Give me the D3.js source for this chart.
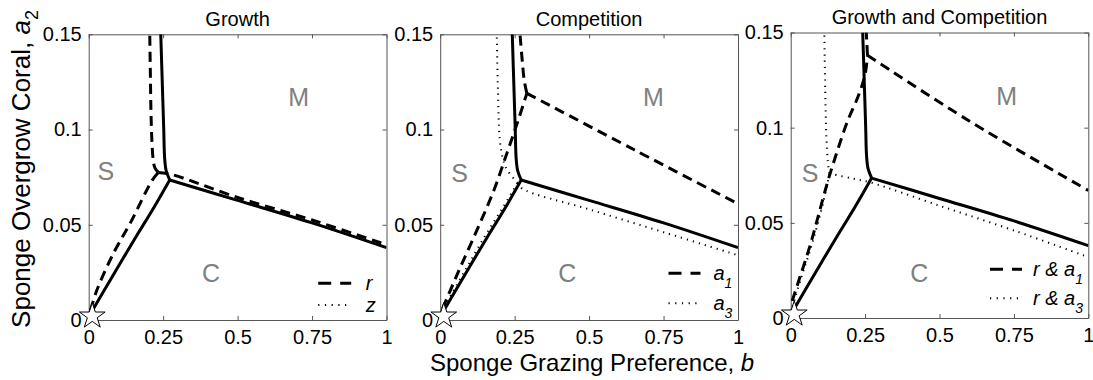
<!DOCTYPE html>
<html>
<head>
<meta charset="utf-8">
<script src="https://cdn.jsdelivr.net/npm/d3@7"></script>
<style>
  body { margin: 0; background: #fff; }
  svg { display: block; font-family: "Liberation Sans", Arial, Helvetica, sans-serif; }
</style>
</head>
<body>
<svg id="chart" width="1093" height="380"></svg>
<script>
// ---- axis ticks and titles ----
const xTicks = [0, 0.25, 0.5, 0.75, 1];
const xTickLabels = ["0", "0.25", "0.5", "0.75", "1"];
const yTicks = [0, 0.05, 0.1, 0.15];
const yTickLabels = ["0", "0.05", "0.1", "0.15"];
const panelTitles = ["Growth", "Competition", "Growth and Competition"];

// ---- reference boundaries (solid), points are [b, a2] ----
const baseLower = [[0.005, 0.003], [0.08, 0.023], [0.16, 0.044], [0.215, 0.058], [0.272, 0.0735]];
const baseUpper = [[0.272, 0.0735], [0.26, 0.0785], [0.255, 0.085], [0.252, 0.1], [0.248, 0.12], [0.242, 0.15]];
const baseRight = [[0.272, 0.0735], [0.5, 0.0628], [0.75, 0.051], [1, 0.038]];

// ---- Growth: r (dashed) and z (dotted) ----
const rLower = [[0.006, 0.005], [0.027, 0.0155], [0.083, 0.035], [0.14, 0.051], [0.212, 0.073], [0.234, 0.0775]];
const rUpper = [[0.234, 0.0775], [0.222, 0.08], [0.216, 0.085], [0.212, 0.095], [0.209, 0.11], [0.207, 0.13], [0.205, 0.15]];
const rRight = [[0.234, 0.0775], [0.28, 0.0763], [0.5, 0.0643], [0.75, 0.0525], [1, 0.0395]];
const zLower = [[0.005, 0.003], [0.08, 0.023], [0.16, 0.044], [0.215, 0.058], [0.272, 0.0735]];
const zUpper = [[0.272, 0.0735], [0.26, 0.0785], [0.255, 0.085], [0.252, 0.1], [0.248, 0.12], [0.242, 0.15]];
const zRight = [[0.272, 0.0735], [0.5, 0.0628], [0.75, 0.051], [1, 0.038]];

// ---- Competition: a1 (dashed) and a3 (dotted) ----
const a1Lower = [[0.008, 0.006], [0.06, 0.025], [0.12, 0.046], [0.18, 0.068], [0.225, 0.088], [0.26, 0.104], [0.291, 0.119]];
const a1Upper = [[0.291, 0.119], [0.282, 0.126], [0.275, 0.137], [0.268, 0.15]];
const a1Right = [[0.291, 0.119], [0.65, 0.0895], [1, 0.061]];
const a3Lower = [[0.003, 0.004], [0.08, 0.025], [0.15, 0.044], [0.21, 0.059], [0.26, 0.072]];
const a3Upper = [[0.26, 0.072], [0.224, 0.079], [0.21, 0.085], [0.2, 0.095], [0.194, 0.12], [0.19, 0.15]];
const a3Right = [[0.26, 0.072], [0.275, 0.069], [0.5, 0.0581], [0.75, 0.0461], [1, 0.034]];

// ---- Growth and Competition: r & a1 (dashed) and r & a3 (dotted) ----
const ra1Lower = [[0.005, 0.009], [0.03, 0.021], [0.065, 0.038], [0.095, 0.055], [0.125, 0.072], [0.155, 0.087], [0.19, 0.103], [0.228, 0.117], [0.25, 0.128], [0.258, 0.138]];
const ra1Upper = [[0.258, 0.138], [0.256, 0.144], [0.254, 0.15]];
const ra1Right = [[0.258, 0.138], [0.6, 0.1035], [1, 0.067]];
const ra3Lower = [[0.006, 0.006], [0.035, 0.021], [0.07, 0.038], [0.1, 0.055], [0.12, 0.068], [0.13, 0.076]];
const ra3Upper = [[0.13, 0.076], [0.125, 0.082], [0.12, 0.095], [0.116, 0.12], [0.113, 0.15]];
const ra3Right = [[0.13, 0.076], [0.2, 0.0735], [0.268, 0.0712], [0.5, 0.059], [0.75, 0.046], [1, 0.032]];

// ---- legend entries: [main text, subscript] ----
const legendGrowth = [["r", ""], ["z", ""]];
const legendCompetition = [["a", "1"], ["a", "3"]];
const legendBoth = [["r & a", "1"], ["r & a", "3"]];

// ---- region labels: [letter, b, a2] ----
const regionsGrowth = [["S", 0.058, 0.078], ["M", 0.705, 0.1173], ["C", 0.411, 0.0245]];
const regionsCompetition = [["S", 0.065, 0.0772], ["M", 0.716, 0.1173], ["C", 0.427, 0.0247]];
const regionsBoth = [["S", 0.065, 0.0762], ["M", 0.726, 0.1167], ["C", 0.432, 0.0236]];

// starting state marker [b, a2]
const startPoint = [0.012, 0.002];

// ---- layout ----
const panels = [
  { left: 88.7, top: 34.3, width: 297.8, height: 285.7,
    dashed: [rLower, rUpper, rRight], dotted: [zLower, zUpper, zRight],
    legend: legendGrowth, regions: regionsGrowth,
    leg: { x0: 229.5, x1: 262.5, tx: 277, row1: -36.7, row2: -15 } },
  { left: 440.2, top: 34.3, width: 297.8, height: 285.7,
    dashed: [a1Lower, a1Upper, a1Right], dotted: [a3Lower, a3Upper, a3Right],
    legend: legendCompetition, regions: regionsCompetition,
    leg: { x0: 228.3, x1: 260.3, tx: 273.3, row1: -46.7, row2: -16.7 } },
  { left: 790.7, top: 32.5, width: 297.6, height: 285.5,
    dashed: [ra1Lower, ra1Upper, ra1Right], dotted: [ra3Lower, ra3Upper, ra3Right],
    legend: legendBoth, regions: regionsBoth,
    leg: { x0: 199.3, x1: 231.3, tx: 242.3, row1: -48.7, row2: -19.7 } }
];

const svg = d3.select("#chart");
const boxColor = "#555";
const DASH = "10,6";
const DOT = "1.2,5";

function starPath(R) {
  const r = R * 0.382;
  const pts = [];
  for (let k = 0; k < 10; k++) {
    const ang = -Math.PI / 2 + k * Math.PI / 5;
    const rad = k % 2 === 0 ? R : r;
    pts.push([rad * Math.cos(ang), rad * Math.sin(ang)]);
  }
  return "M" + pts.map(p => p[0].toFixed(2) + "," + p[1].toFixed(2)).join("L") + "Z";
}

panels.forEach((p, i) => {
  const g = svg.append("g").attr("transform", `translate(${p.left},${p.top})`);
  const x = d3.scaleLinear().domain([0, 1]).range([0, p.width]);
  const y = d3.scaleLinear().domain([0, 0.15]).range([p.height, 0]);

  const clipId = "clip" + i;
  g.append("clipPath").attr("id", clipId)
    .append("rect").attr("x", 0).attr("y", 0).attr("width", p.width).attr("height", p.height);

  // region letters
  g.selectAll("text.region").data(p.regions).join("text")
    .attr("class", "region")
    .attr("x", d => x(d[1]))
    .attr("y", d => y(d[2]) + 9)
    .attr("text-anchor", "middle")
    .attr("font-size", 25)
    .attr("fill", "#808080")
    .text(d => d[0]);

  // axes: labelled bottom/left, tick-only top/right, all ticks pointing inward
  const fmtX = d => xTickLabels[xTicks.indexOf(d)];
  const fmtY = d => yTickLabels[yTicks.indexOf(d)];
  const axB = g.append("g").attr("transform", `translate(0,${p.height})`)
    .call(d3.axisBottom(x).tickValues(xTicks).tickFormat(fmtX).tickSizeInner(-4).tickSizeOuter(0).tickPadding(10));
  const axL = g.append("g")
    .call(d3.axisLeft(y).tickValues(yTicks).tickFormat(fmtY).tickSizeInner(-4).tickSizeOuter(0).tickPadding(7));
  const axT = g.append("g")
    .call(d3.axisTop(x).tickValues(xTicks).tickFormat("").tickSizeInner(-4).tickSizeOuter(0));
  const axR = g.append("g").attr("transform", `translate(${p.width},0)`)
    .call(d3.axisRight(y).tickValues(yTicks).tickFormat("").tickSizeInner(-4).tickSizeOuter(0));
  [axB, axL, axT, axR].forEach(a => {
    a.attr("font-family", null).attr("font-size", null);
    a.select(".domain").attr("stroke", boxColor).attr("stroke-width", 1);
    a.selectAll(".tick line").attr("stroke", boxColor).attr("stroke-width", 1);
    a.selectAll(".tick text").attr("fill", "#000").attr("font-size", 20);
  });

  // title
  g.append("text")
    .attr("x", p.width / 2).attr("y", -8.5)
    .attr("text-anchor", "middle").attr("font-size", 20).attr("fill", "#000")
    .text(panelTitles[i]);

  const line = d3.line().x(d => x(d[0])).y(d => y(d[1])).curve(d3.curveCatmullRom.alpha(0.5));
  const curves = g.append("g").attr("clip-path", `url(#${clipId})`).attr("fill", "none").attr("stroke", "#000");

  // solid reference boundaries
  [baseLower, baseUpper, baseRight].forEach(b => {
    curves.append("path").attr("d", line(b)).attr("stroke-width", 3).attr("stroke-linejoin", "round");
  });
  // dashed series
  p.dashed.forEach(b => {
    curves.append("path").attr("d", line(b)).attr("stroke-width", 3).attr("stroke-dasharray", DASH);
  });
  // dotted series
  p.dotted.forEach(b => {
    curves.append("path").attr("d", line(b)).attr("stroke-width", 2).attr("stroke-dasharray", DOT);
  });

  // legend
  const lg = g.append("g").attr("transform", `translate(0,${p.height})`);
  const rows = [p.leg.row1, p.leg.row2];
  p.legend.forEach((entry, k) => {
    const ry = rows[k];
    lg.append("line")
      .attr("x1", p.leg.x0).attr("x2", p.leg.x1).attr("y1", ry).attr("y2", ry)
      .attr("stroke", "#000")
      .attr("stroke-width", k === 0 ? 3 : 2)
      .attr("stroke-dasharray", k === 0 ? "13,9" : "1.2,5.5");
    const t = lg.append("text")
      .attr("x", p.leg.tx).attr("y", ry + 6.5)
      .attr("font-size", 20).attr("font-style", "italic").attr("fill", "#000");
    t.append("tspan").text(entry[0]);
    if (entry[1]) {
      t.append("tspan").attr("font-size", 14).attr("dy", 8).text(entry[1]);
    }
  });

  // starting state marker
  g.append("path")
    .attr("d", starPath(13.5))
    .attr("transform", `translate(${x(startPoint[0])},${y(startPoint[1])})`)
    .attr("fill", "#fff").attr("stroke", "#000").attr("stroke-width", 1);
});

// shared axis labels
const yl = svg.append("text")
  .attr("transform", "translate(30,169) rotate(-90)")
  .attr("text-anchor", "middle").attr("font-size", 26).attr("fill", "#000");
yl.append("tspan").text("Sponge Overgrow Coral, ");
yl.append("tspan").attr("font-style", "italic").text("a");
yl.append("tspan").attr("font-size", 18).attr("dy", 8).text("2");

const xl = svg.append("text")
  .attr("x", 430).attr("y", 371)
  .attr("text-anchor", "start").attr("font-size", 24).attr("fill", "#000");
xl.append("tspan").text("Sponge Grazing Preference, ");
xl.append("tspan").attr("font-style", "italic").text("b");
</script>
</body>
</html>
